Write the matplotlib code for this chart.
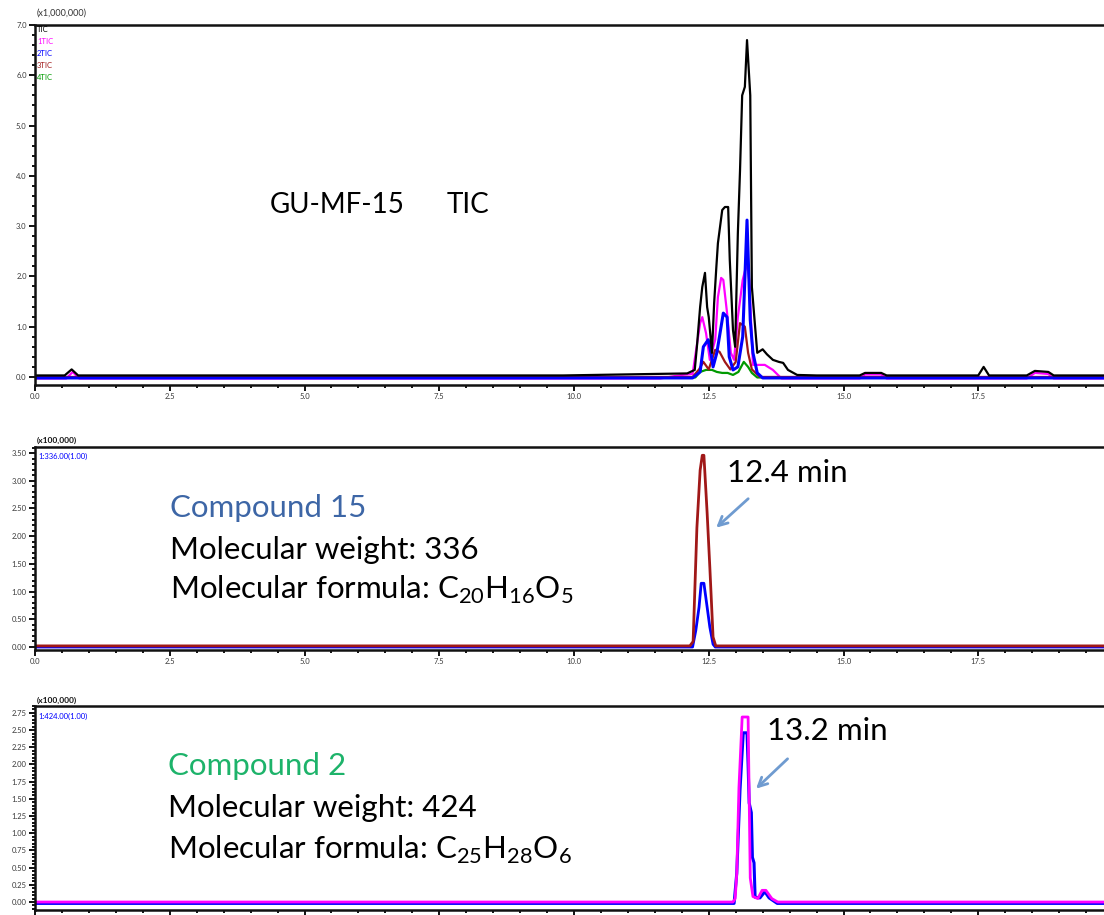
import matplotlib
matplotlib.use("Agg")
import matplotlib.pyplot as plt
from matplotlib.ticker import MultipleLocator, FormatStrFormatter

# ---------------- data (retention time in min, intensity) ----------------
# TIC overlay of the sample (x1,000,000)
tic_black_t = [0.0, 0.55, 0.68, 0.8, 5.0, 9.8, 11.5, 12.1, 12.24, 12.28, 12.34, 12.38, 12.43,
               12.47, 12.50, 12.56, 12.60, 12.64, 12.67, 12.75, 12.80, 12.86, 12.89, 12.95,
               12.99, 13.04, 13.08, 13.12, 13.17, 13.21, 13.27, 13.30, 13.36, 13.40, 13.50,
               13.58, 13.69, 13.80, 13.88, 13.97, 14.14, 14.5, 15.3, 15.4, 15.7, 15.8, 17.5,
               17.6, 17.7, 18.4, 18.55, 18.8, 18.9, 19.9]
tic_black_v = [0.03, 0.03, 0.15, 0.03, 0.03, 0.03, 0.06, 0.07, 0.14, 0.60, 1.39, 1.79, 2.07,
               1.39, 1.19, 0.48, 1.47, 2.17, 2.66, 3.32, 3.38, 3.38, 2.33, 0.93,
               0.60, 2.86, 4.10, 5.60, 5.77, 6.70, 5.60, 1.79, 1.00, 0.48, 0.55,
               0.45, 0.34, 0.30, 0.28, 0.14, 0.04, 0.03, 0.03, 0.08, 0.08, 0.03, 0.03,
               0.20, 0.03, 0.03, 0.12, 0.10, 0.03, 0.03]

tic1_t = [0.0, 0.58, 0.7, 0.82, 11.6, 12.0, 12.2, 12.34, 12.38, 12.45, 12.52, 12.62, 12.67,
          12.73, 12.77, 12.84, 12.91, 12.97, 13.04, 13.13, 13.21, 13.25, 13.30, 13.32, 13.54,
          13.69, 13.85, 15.3, 15.4, 15.7, 15.8, 18.4, 18.55, 18.8, 18.9, 19.9]
tic1_v = [-0.03, -0.03, 0.10, -0.03, -0.03, 0.04, 0.06, 1.07, 1.19, 0.87, 0.34, 0.74, 1.59,
          1.97, 1.93, 1.27, 0.48, 0.34, 1.19, 1.93, 2.27, 1.93, 0.74, 0.24, 0.24,
          0.14, -0.03, -0.03, 0.05, 0.05, -0.03, -0.03, 0.08, 0.06, -0.03, -0.03]

tic2_t = [0.0, 12.2, 12.34, 12.40, 12.49, 12.54, 12.58, 12.65, 12.77, 12.84, 12.88, 12.95,
          13.04, 13.13, 13.21, 13.27, 13.32, 13.40, 13.5, 19.9]
tic2_v = [-0.02, -0.02, 0.10, 0.60, 0.74, 0.48, 0.20, 0.48, 1.27, 1.19, 0.40, 0.14,
          0.20, 0.80, 3.12, 1.13, 0.48, 0.08, -0.02, -0.02]

tic3_t = [0.0, 12.2, 12.32, 12.40, 12.50, 12.62, 12.70, 12.80, 12.90, 13.00, 13.08, 13.17,
          13.23, 13.30, 13.45, 19.9]
tic3_v = [0.0, 0.0, 0.15, 0.30, 0.15, 0.54, 0.50, 0.30, 0.15, 0.30, 1.07, 1.00,
          0.48, 0.15, 0.0, 0.0]

tic4_t = [0.0, 12.25, 12.34, 12.45, 12.56, 12.65, 12.75, 12.85, 12.95, 13.05, 13.15, 13.23,
          13.30, 13.40, 19.9]
tic4_v = [-0.01, -0.01, 0.10, 0.14, 0.14, 0.10, 0.08, 0.08, 0.04, 0.10, 0.30, 0.20,
          0.08, -0.01, -0.01]

# Extracted ion chromatograms, compound 15 (m/z 336)
c15_red_t = [0.0, 12.15, 12.21, 12.28, 12.34, 12.38, 12.41, 12.47, 12.52, 12.58, 12.63, 19.9]
c15_red_v = [0.02, 0.02, 0.10, 2.15, 3.19, 3.46, 3.46, 2.42, 1.44, 0.18, 0.02, 0.02]
c15_blue_t = [0.0, 12.2, 12.26, 12.32, 12.36, 12.41, 12.47, 12.52, 12.58, 12.62, 19.9]
c15_blue_v = [0.0, 0.0, 0.30, 0.72, 1.15, 1.15, 0.72, 0.36, 0.05, 0.0, 0.0]
c15_rt = 12.4

# Extracted ion chromatograms, compound 2 (m/z 424)
c2_mag_t = [0.0, 12.95, 12.99, 13.02, 13.06, 13.12, 13.23, 13.27, 13.32, 13.41, 13.49,
            13.56, 13.67, 13.78, 19.9]
c2_mag_v = [0.0, 0.0, 0.05, 0.42, 1.66, 2.69, 2.69, 0.35, 0.08, 0.05, 0.17,
            0.17, 0.05, 0.0, 0.0]
c2_blue_t = [0.0, 12.97, 13.02, 13.08, 13.14, 13.21, 13.23, 13.25, 13.29, 13.31, 13.34,
             13.36, 13.45, 13.54, 13.62, 13.77, 19.9]
c2_blue_v = [-0.02, -0.02, 0.42, 1.63, 2.46, 2.46, 2.00, 1.44, 1.30, 0.65, 0.57,
             0.07, 0.06, 0.15, 0.06, -0.02, -0.02]
c2_rt = 13.2

legend_labels = ["TIC", "1TIC", "2TIC", "3TIC", "4TIC"]
x_major = 2.5
x_minor = 0.5

# ---------------- figure ----------------
W, H = 1104, 915
fig = plt.figure(figsize=(W / 100, H / 100), dpi=100)
plt.rcParams["font.family"] = ["Lato", "DejaVu Sans"]


def rect(top_px, bottom_px, left_px=35, right_px=1106):
    return [left_px / W, 1 - bottom_px / H, (right_px - left_px) / W, (bottom_px - top_px) / H]


def fxy(px, py):
    return px / W, 1 - py / H


XMAX = (1106 - 35) / 53.9

ax1 = fig.add_axes(rect(25, 385))
ax2 = fig.add_axes(rect(447, 650))
ax3 = fig.add_axes(rect(706, 910))

C_BLACK = "black"
C_MAG = "#ff00ff"
C_BLUE = "#0000ff"
C_RED = "#a01818"
C_GREEN = "#009a00"
LW = 1.6

ax1.plot(tic1_t, tic1_v, color=C_MAG, lw=LW)
ax1.plot(tic4_t, tic4_v, color=C_GREEN, lw=LW)
ax1.plot(tic3_t, tic3_v, color=C_RED, lw=LW)
ax1.plot(tic2_t, tic2_v, color=C_BLUE, lw=LW + 0.6)
ax1.plot(tic_black_t, tic_black_v, color=C_BLACK, lw=LW)
ax1.set_ylim(-0.16, 7.0)
ax1.yaxis.set_major_locator(MultipleLocator(1.0))
ax1.yaxis.set_minor_locator(MultipleLocator(0.2))

ax2.plot(c15_blue_t, c15_blue_v, color=C_BLUE, lw=LW + 0.4)
ax2.plot(c15_red_t, c15_red_v, color=C_RED, lw=LW + 0.4)
ax2.set_ylim(-0.054, 3.61)
ax2.yaxis.set_major_locator(MultipleLocator(0.5))
ax2.yaxis.set_minor_locator(MultipleLocator(0.1))

ax3.plot(c2_blue_t, c2_blue_v, color=C_BLUE, lw=LW + 0.6)
ax3.plot(c2_mag_t, c2_mag_v, color=C_MAG, lw=LW + 0.4)
ax3.set_ylim(-0.116, 2.85)
ax3.yaxis.set_major_locator(MultipleLocator(0.25))
ax3.yaxis.set_minor_locator(MultipleLocator(0.05))

for ax in (ax1, ax2, ax3):
    ax.set_xlim(0, XMAX)
    ax.xaxis.set_major_locator(MultipleLocator(x_major))
    ax.xaxis.set_minor_locator(MultipleLocator(x_minor))
    ax.xaxis.set_major_formatter(FormatStrFormatter("%.1f"))
    ax.yaxis.set_major_formatter(FormatStrFormatter("%.1f"))
    ax.tick_params(which="both", direction="out", color="black", width=1.3,
                   labelsize=5.5, labelcolor="#3a3a3a", pad=2)
    ax.tick_params(which="major", length=4)
    ax.tick_params(which="minor", length=2.5)
    ax.spines["right"].set_visible(False)
    for s in ("left", "bottom", "top"):
        ax.spines[s].set_linewidth(1.8)
        ax.spines[s].set_color("#111111")

ax2.yaxis.set_major_formatter(FormatStrFormatter("%.2f"))
ax3.yaxis.set_major_formatter(FormatStrFormatter("%.2f"))

# small instrument headers
fig.text(*fxy(37, 13), "(x1,000,000)", fontsize=6.5, color="#333333", va="center")
for i, (lab, col) in enumerate(zip(legend_labels, [C_BLACK, C_MAG, C_BLUE, C_RED, C_GREEN])):
    fig.text(*fxy(37, 29 + 12 * i), lab, fontsize=5.5, color=col, va="center")

fig.text(*fxy(37, 440), "(x100,000)", fontsize=6, color="#111111", va="center",
         fontweight="bold")
fig.text(*fxy(38, 456), "1:336.00(1.00)", fontsize=5.5, color=C_BLUE, va="center")
fig.text(*fxy(37, 700), "(x100,000)", fontsize=6, color="#111111", va="center",
         fontweight="bold")
fig.text(*fxy(38, 716), "1:424.00(1.00)", fontsize=5.5, color=C_BLUE, va="center")

# panel annotations
fig.text(*fxy(270, 205), "GU-MF-15", fontsize=20, color="black", va="center")
fig.text(*fxy(447, 205), "TIC", fontsize=20, color="black", va="center")

FS = 22.5
fig.text(*fxy(170, 508), "Compound 15", fontsize=FS, color="#3d66a6", va="center")
fig.text(*fxy(170, 550), "Molecular weight: 336", fontsize=FS, color="black", va="center")
fig.text(*fxy(170, 590),
         r"Molecular formula: C$_{\mathregular{20}}$H$_{\mathregular{16}}$O$_{\mathregular{5}}$",
         fontsize=FS, color="black", va="center")

fig.text(*fxy(168, 766), "Compound 2", fontsize=FS, color="#1db36a", va="center")
fig.text(*fxy(168, 808), "Molecular weight: 424", fontsize=FS, color="black", va="center")
fig.text(*fxy(168, 850),
         r"Molecular formula: C$_{\mathregular{25}}$H$_{\mathregular{28}}$O$_{\mathregular{6}}$",
         fontsize=FS, color="black", va="center")

ARROW = "#6f9bd0"
ax2.annotate(f"{c15_rt:.1f} min", xy=(12.62, 2.17), xytext=(12.84, 3.14),
             fontsize=FS, color="black", va="center", ha="left")
ax2.annotate("", xy=(12.60, 2.12), xytext=(13.27, 2.71),
             arrowprops=dict(arrowstyle="->", color=ARROW, lw=2, mutation_scale=16))
ax3.annotate(f"{c2_rt:.1f} min", xy=(13.36, 1.67), xytext=(13.58, 2.49),
             fontsize=FS, color="black", va="center", ha="left")
ax3.annotate("", xy=(13.34, 1.62), xytext=(14.0, 2.11),
             arrowprops=dict(arrowstyle="->", color=ARROW, lw=2, mutation_scale=16))

fig.savefig("out.png", dpi=100)
